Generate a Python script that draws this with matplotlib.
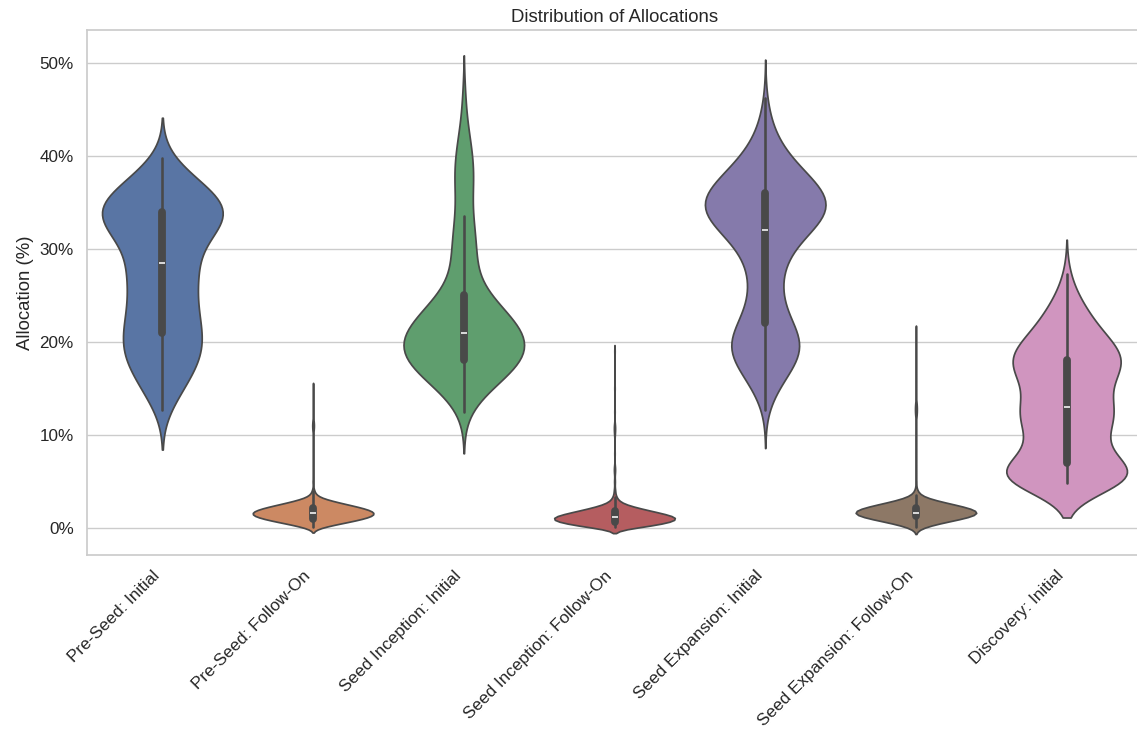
import numpy as np
import pandas as pd
import matplotlib
matplotlib.use("Agg")
import matplotlib.pyplot as plt
from matplotlib.ticker import PercentFormatter
import seaborn as sns

# allocation samples per round (percent), stored as value -> number of portfolios
categories = [
    "Pre-Seed: Initial",
    "Pre-Seed: Follow-On",
    "Seed Inception: Initial",
    "Seed Inception: Follow-On",
    "Seed Expansion: Initial",
    "Seed Expansion: Follow-On",
    "Discovery: Initial",
]

pre_seed_initial_vals = [12.7, 14, 15, 16, 17, 18, 19, 20, 21, 22, 23, 24, 25, 26, 27, 28,
                         29, 30, 31, 32, 33, 34, 35, 36, 37, 38, 39, 39.8]
pre_seed_initial_counts = [2, 3, 4, 5, 6, 7, 8, 8, 7, 7, 7, 6, 6, 6, 7, 7,
                           6, 6, 8, 10, 13, 14, 13, 10, 7, 5, 3, 1]

pre_seed_follow_vals = [0.1, 0.4, 0.7, 1.0, 1.3, 1.6, 1.9, 2.2, 2.5, 2.8, 3.1, 3.5, 4.0,
                        5.0, 6.5, 8.0, 9.5, 10.5, 11.0, 11.5, 12.5, 15.0]
pre_seed_follow_counts = [20, 45, 75, 100, 120, 125, 115, 95, 70, 45, 25, 10, 4,
                          2, 1, 1, 1, 2, 3, 2, 1, 1]

seed_inc_initial_vals = [12.5, 14, 15, 16, 17, 18, 19, 20, 21, 22, 23, 24, 25, 26, 27, 28,
                         29, 30, 31, 32, 33, 33.5, 35.7, 36.5, 37.5, 38.5, 39.5, 40.5,
                         41.5, 42.5, 43.5, 46.3]
seed_inc_initial_counts = [1, 3, 5, 8, 11, 13, 14, 14, 13, 11, 9, 7, 5, 3, 2, 2,
                           3, 3, 2, 2, 2, 2, 2, 2, 2, 2, 2, 2,
                           1, 1, 1, 1]

seed_inc_follow_vals = [0.1, 0.3, 0.6, 0.9, 1.2, 1.5, 1.8, 2.1, 2.4, 2.8, 3.3, 4.0, 5.0,
                        6.0, 6.5, 8.0, 10.0, 10.5, 11.0, 12.5, 15.0, 19.0]
seed_inc_follow_counts = [40, 70, 110, 130, 125, 100, 75, 50, 30, 15, 7, 3, 2,
                          2, 2, 1, 1, 2, 2, 1, 1, 1]

seed_exp_initial_vals = [12.7, 14, 15, 16, 17, 18, 19, 20, 21, 22, 23, 24, 25, 26, 27, 28,
                         29, 30, 31, 32, 33, 34, 35, 36, 37, 38, 39, 40, 41, 42, 43, 44,
                         45, 46.2]
seed_exp_initial_counts = [1, 3, 5, 7, 10, 14, 16, 16, 14, 10, 8, 7, 6, 6, 6, 7,
                           8, 10, 13, 18, 24, 27, 28, 25, 21, 16, 12, 9, 6, 4, 3, 2,
                           1, 1]

seed_exp_follow_vals = [0.1, 0.4, 0.7, 1.0, 1.3, 1.6, 1.9, 2.2, 2.5, 2.8, 3.1, 3.5, 4.0,
                        5.0, 6.5, 8.0, 10.0, 12.0, 12.5, 13.0, 13.5, 16.0, 21.0]
seed_exp_follow_counts = [15, 35, 60, 90, 115, 125, 120, 100, 75, 50, 28, 12, 5,
                          2, 1, 1, 1, 2, 3, 3, 2, 1, 1]

discovery_initial_vals = [4.8, 5.5, 6, 7, 8, 9, 10, 11, 12, 13, 14, 15, 16, 17, 18, 19,
                          20, 21, 22, 23, 24, 25, 26, 27.3]
discovery_initial_counts = [15, 13, 10, 8, 7, 6, 6, 8, 10, 9, 7, 6, 8, 10, 12, 10,
                            8, 6, 5, 4, 3, 2, 1, 1]

groups = [
    (pre_seed_initial_vals, pre_seed_initial_counts),
    (pre_seed_follow_vals, pre_seed_follow_counts),
    (seed_inc_initial_vals, seed_inc_initial_counts),
    (seed_inc_follow_vals, seed_inc_follow_counts),
    (seed_exp_initial_vals, seed_exp_initial_counts),
    (seed_exp_follow_vals, seed_exp_follow_counts),
    (discovery_initial_vals, discovery_initial_counts),
]

rows = []
for name, (vals, counts) in zip(categories, groups):
    for v in np.repeat(vals, counts):
        rows.append({"Round": name, "Allocation": v})
df = pd.DataFrame(rows)

sns.set_theme(style="whitegrid")
plt.rcParams["font.family"] = ["Liberation Sans", "DejaVu Sans"]

fig = plt.figure(figsize=(11.37, 7.31), dpi=100)
ax = fig.add_axes([87 / 1137, 1 - 555 / 731, 1055 / 1137, 525 / 731])

sns.violinplot(data=df, x="Round", y="Allocation", hue="Round", palette="deep",
               legend=False, density_norm="width", inner="box", bw_adjust=0.85, ax=ax)

ax.set_ylim(-2.9, 53.5)
ax.yaxis.set_major_formatter(PercentFormatter(xmax=100, decimals=0))
ax.set_title("Distribution of Allocations", fontsize=13.4, color="0.15")
ax.set_xlabel("")
ax.set_ylabel("Allocation (%)", fontsize=13.4)
ax.tick_params(axis="both", labelsize=12.3)
plt.setp(ax.get_xticklabels(), rotation=45, ha="right")

fig.savefig("out.png", dpi=100)
